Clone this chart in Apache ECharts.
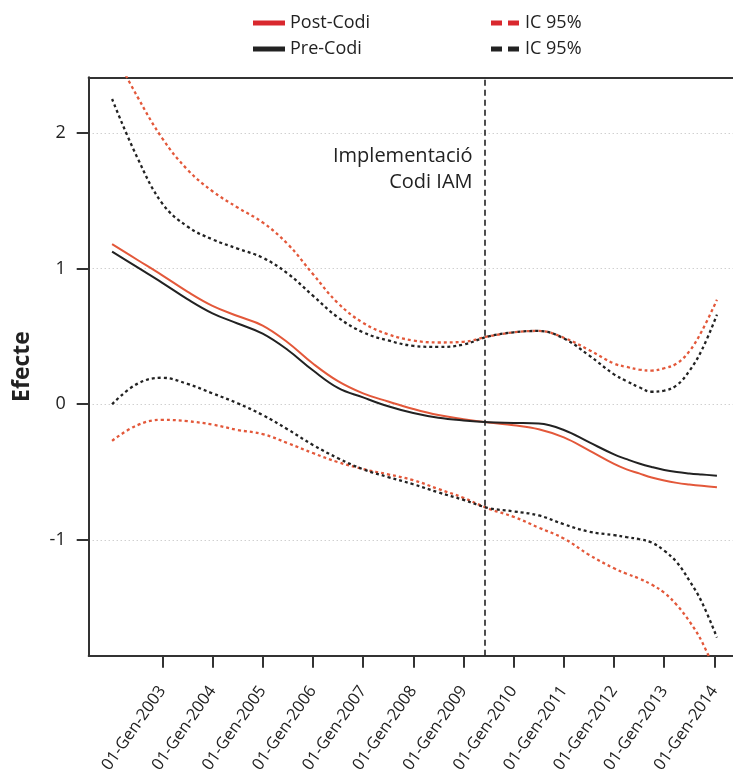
<!DOCTYPE html>
<html>
<head>
<meta charset="utf-8">
<script src="https://cdn.jsdelivr.net/npm/echarts@6/dist/echarts.min.js"></script>
<style>
  html, body { margin: 0; padding: 0; background: #fff; }
  #chart { width: 733px; height: 769px; }
</style>
</head>
<body>
<div id="chart"></div>
<script>
// Time in decimal years (data runs from Jan 2002 to early 2014)
const years = [2002.0, 2002.5, 2003, 2003.5, 2004, 2004.5, 2005, 2005.5, 2006, 2006.5,
  2007, 2007.5, 2008, 2008.5, 2009, 2009.5, 2010, 2010.5, 2011, 2011.5,
  2012, 2012.25, 2012.5, 2012.75, 2013, 2013.25, 2013.5, 2013.75, 2014.05];

// Estimated effect
const postCodi = [1.18, 1.065, 0.95, 0.83, 0.725, 0.65, 0.58, 0.455, 0.30, 0.17,
  0.08, 0.02, -0.035, -0.08, -0.11, -0.135, -0.155, -0.185, -0.245, -0.34,
  -0.44, -0.48, -0.51, -0.54, -0.563, -0.58, -0.592, -0.602, -0.612];
const preCodi = [1.125, 1.01, 0.895, 0.775, 0.67, 0.595, 0.52, 0.40, 0.25, 0.12,
  0.05, -0.015, -0.065, -0.10, -0.12, -0.133, -0.138, -0.143, -0.19, -0.28,
  -0.37, -0.405, -0.437, -0.463, -0.485, -0.50, -0.51, -0.518, -0.527];

// 95% confidence bands
const postUpper = [2.62, 2.27, 1.96, 1.73, 1.57, 1.45, 1.34, 1.18, 0.96, 0.745,
  0.60, 0.515, 0.47, 0.455, 0.46, 0.50, 0.53, 0.54, 0.49, 0.40,
  0.30, 0.275, 0.255, 0.248, 0.265, 0.30, 0.39, 0.54, 0.77];
const postLower = [-0.27, -0.155, -0.115, -0.125, -0.15, -0.19, -0.22, -0.287, -0.36, -0.427,
  -0.478, -0.517, -0.56, -0.625, -0.69, -0.77, -0.83, -0.91, -0.99, -1.11,
  -1.21, -1.25, -1.285, -1.33, -1.39, -1.48, -1.60, -1.75, -2.0];
const preUpper = [2.25, 1.82, 1.48, 1.31, 1.215, 1.147, 1.08, 0.963, 0.80, 0.64,
  0.53, 0.47, 0.43, 0.422, 0.44, 0.50, 0.53, 0.54, 0.485, 0.36,
  0.22, 0.17, 0.125, 0.092, 0.10, 0.14, 0.245, 0.40, 0.66];
const preLower = [0.0, 0.15, 0.195, 0.15, 0.08, 0.007, -0.08, -0.186, -0.30, -0.398,
  -0.48, -0.537, -0.59, -0.65, -0.705, -0.765, -0.79, -0.82, -0.885, -0.94,
  -0.965, -0.98, -0.995, -1.02, -1.08, -1.165, -1.30, -1.46, -1.72];

// Axis ticks
const tickYears = [2003, 2004, 2005, 2006, 2007, 2008, 2009, 2010, 2011, 2012, 2013, 2014];
const yTicks = [-1, 0, 1, 2];
const implementationYear = 2009.42;

const RED = '#e3583a';
const RED_LEGEND = '#d9282e';
const BLACK = '#222222';
const FONT = '"Open Sans", "DejaVu Sans", sans-serif';

const pairs = vals => years.map((x, i) => [x, vals[i]]);

function curve(name, vals, color, dotted) {
  return {
    name: name,
    type: 'line',
    data: pairs(vals),
    smooth: 0.4,
    symbol: 'none',
    clip: true,
    lineStyle: dotted
      ? { color: color, width: 2.3, type: [3, 3] }
      : { color: color, width: 2 },
    itemStyle: { color: color },
    z: dotted ? 2 : 3
  };
}

const dashIcon = 'path://M0,0h11v5h-11z M17,0h11v5h-11z';

const chart = echarts.init(document.getElementById('chart'), null, { renderer: 'canvas' });

chart.setOption({
  backgroundColor: '#ffffff',
  animation: false,
  textStyle: { fontFamily: FONT },
  grid: {
    left: 88.7, right: 0, top: 77.3, bottom: 113.3,
    containLabel: false, outerBoundsMode: 'none'
  },
  legend: [
    {
      orient: 'vertical', left: 248, top: 9,
      itemWidth: 32, itemHeight: 5, itemGap: 8, itemTextGap: 10,
      textStyle: { fontSize: 18, color: '#222', fontFamily: FONT },
      data: [
        { name: 'Post-Codi', icon: 'rect', itemStyle: { color: RED_LEGEND } },
        { name: 'Pre-Codi', icon: 'rect', itemStyle: { color: BLACK } }
      ],
      selectedMode: false
    },
    {
      orient: 'vertical', left: 486, top: 9,
      itemWidth: 30, itemHeight: 5, itemGap: 8, itemTextGap: 13,
      textStyle: { fontSize: 18, color: '#222', fontFamily: FONT },
      formatter: () => 'IC 95%',
      data: [
        { name: 'IC 95% post', icon: dashIcon, itemStyle: { color: RED_LEGEND } },
        { name: 'IC 95% pre', icon: dashIcon, itemStyle: { color: BLACK } }
      ],
      selectedMode: false
    }
  ],
  xAxis: [
    {
      type: 'value',
      min: 2001.534,
      max: 2014.37,
      position: 'bottom',
      axisLine: { show: true, onZero: false, lineStyle: { color: '#333', width: 2 } },
      axisTick: { show: true, inside: false, length: 12, customValues: tickYears,
        lineStyle: { color: '#333', width: 2 } },
      axisLabel: {
        customValues: tickYears,
        rotate: 55,
        margin: 32,
        fontSize: 16.5,
        color: '#222',
        fontFamily: FONT,
        formatter: v => '01-Gen-' + Math.round(v)
      },
      splitLine: { show: false }
    },
    {
      type: 'value',
      min: 2001.534,
      max: 2014.37,
      position: 'top',
      axisLine: { show: true, onZero: false, lineStyle: { color: '#333', width: 2 } },
      axisTick: { show: false },
      axisLabel: { show: false },
      splitLine: { show: false }
    }
  ],
  yAxis: {
    type: 'value',
    min: -1.854,
    max: 2.41,
    name: 'Efecte',
    nameLocation: 'middle',
    nameGap: 55,
    nameRotate: 90,
    nameTextStyle: { fontSize: 23, fontWeight: 'bold', color: '#222', fontFamily: FONT },
    axisLine: { show: true, onZero: false, lineStyle: { color: '#333', width: 2 } },
    axisTick: { show: true, inside: false, length: 12, customValues: yTicks,
      lineStyle: { color: '#333', width: 2 } },
    axisLabel: {
      customValues: yTicks,
      margin: 23,
      fontSize: 18,
      color: '#222',
      fontFamily: FONT
    },
    splitLine: { show: true, lineStyle: { color: '#bbbbbb', width: 1, type: [1, 3] } }
  },
  series: [
    curve('IC 95% post', postUpper, RED, true),
    curve('IC 95% post', postLower, RED, true),
    curve('IC 95% pre', preUpper, BLACK, true),
    curve('IC 95% pre', preLower, BLACK, true),
    curve('Post-Codi', postCodi, RED, false),
    curve('Pre-Codi', preCodi, BLACK, false),
    {
      name: 'implementacio',
      type: 'line',
      data: [],
      markLine: {
        silent: true,
        symbol: 'none',
        label: { show: false },
        lineStyle: { color: '#222', width: 1.6, type: [6, 4] },
        data: [{ xAxis: implementationYear }]
      }
    }
  ]
});

// Annotation next to the implementation line
const anchor = chart.convertToPixel({ xAxisIndex: 0, yAxisIndex: 0 }, [implementationYear, 1.8]);
chart.setOption({
  graphic: [{
    type: 'text',
    x: anchor[0] - 12,
    y: anchor[1] - 17,
    style: {
      text: 'Implementació\nCodi IAM',
      align: 'right',
      verticalAlign: 'top',
      fontSize: 20,
      lineHeight: 26,
      fill: '#222',
      fontFamily: FONT
    }
  }]
});
</script>
</body>
</html>
